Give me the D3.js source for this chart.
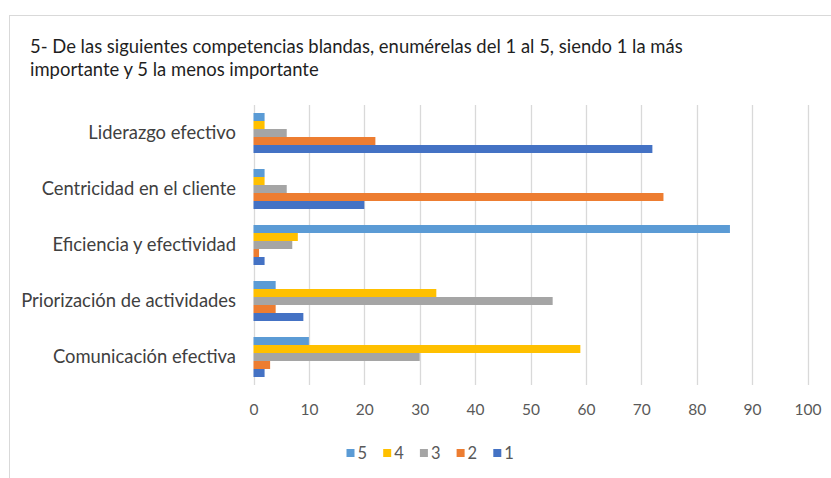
<!DOCTYPE html>
<html>
<head>
<meta charset="utf-8">
<script src="https://cdn.jsdelivr.net/npm/d3@7"></script>
<style>
	body { margin: 0; background: #fff; }
	svg { display: block; font-family: Lato, "Open Sans", sans-serif; }
</style>
</head>
<body>
<svg width="831" height="478"></svg>
<script>
const titleLines = [
	"5- De las siguientes competencias blandas, enumérelas del 1 al 5, siendo 1 la más",
	"importante y 5 la menos importante"
];
const categories = [
	"Liderazgo efectivo",
	"Centricidad en el cliente",
	"Eficiencia y efectividad",
	"Priorización de actividades",
	"Comunicación efectiva"
];
const seriesNames = ["5", "4", "3", "2", "1"];
const seriesColors = ["#5b9bd5", "#ffc000", "#a5a5a5", "#ed7d31", "#4472c4"];
// values per category, in the order of seriesNames (5,4,3,2,1)
const liderazgo = [2, 2, 6, 22, 72];
const centricidad = [2, 2, 6, 74, 20];
const eficiencia = [86, 8, 7, 1, 2];
const priorizacion = [4, 33, 54, 4, 9];
const comunicacion = [10, 59, 30, 3, 2];
const values = [liderazgo, centricidad, eficiencia, priorizacion, comunicacion];
const xTicks = [0, 10, 20, 30, 40, 50, 60, 70, 80, 90, 100];

const svg = d3.select("svg");

// chart frame
svg.append("rect")
	.attr("x", 9.5).attr("y", 15.5)
	.attr("width", 840).attr("height", 480)
	.attr("fill", "#fff")
	.attr("stroke", "#d9d9d9");

// fit a text element to a target width by adjusting its font size
function fitWidth(sel, target) {
	const node = sel.node();
	const w = node.getComputedTextLength();
	const fs = parseFloat(sel.attr("font-size"));
	sel.attr("font-size", fs * target / w);
}

const title = svg.append("g");
titleLines.forEach(function(t, i) {
	title.append("text")
		.attr("x", 30)
		.attr("y", 53 + i * 23)
		.attr("font-size", 15)
		.attr("fill", "#1f1f1f")
		.text(t);
});
fitWidth(title.select("text"), 653);
const tfs = title.select("text").attr("font-size");
title.selectAll("text").attr("font-size", tfs);

const x = d3.scaleLinear()
	.domain([0, 100])
	.range([253.5, 807.5]);

const y = d3.scaleBand()
	.domain(categories)
	.range([105, 385])
	.paddingInner(2 / 7)
	.paddingOuter(1 / 7);

const ySub = d3.scaleBand()
	.domain(seriesNames)
	.range([0, y.bandwidth()]);

// gridlines
svg.append("g")
	.selectAll("line")
	.data(xTicks)
	.enter().append("line")
	.attr("x1", d => Math.round(x(d)) + 0.5)
	.attr("x2", d => Math.round(x(d)) + 0.5)
	.attr("y1", 105)
	.attr("y2", 385)
	.attr("stroke", "#d9d9d9")
	.attr("stroke-width", 1.3);

// x axis labels
const xAxis = svg.append("g")
	.attr("transform", "translate(0,385)")
	.call(d3.axisBottom(x).tickValues(xTicks).tickSize(0).tickPadding(19));
xAxis.select(".domain").remove();
xAxis.selectAll("text")
	.attr("font-size", 15.5)
	.attr("font-family", "Lato, 'Open Sans', sans-serif")
	.attr("fill", "#595959");

// category labels
const yAxis = svg.append("g")
	.attr("transform", "translate(236,0)")
	.call(d3.axisLeft(y).tickSize(0).tickPadding(0));
yAxis.select(".domain").remove();
yAxis.selectAll("text")
	.attr("font-size", 15)
	.attr("font-family", "Lato, 'Open Sans', sans-serif")
	.attr("fill", "#404040");
const longest = yAxis.selectAll("text").filter(d => d === "Priorización de actividades");
fitWidth(longest, 215);
yAxis.selectAll("text").attr("font-size", longest.attr("font-size"));

// bars
const groups = svg.append("g")
	.selectAll("g")
	.data(categories)
	.enter().append("g")
	.attr("transform", d => `translate(0,${y(d)})`);

groups.selectAll("rect")
	.data((d, i) => seriesNames.map((s, j) => ({ series: s, value: values[i][j], color: seriesColors[j] })))
	.enter().append("rect")
	.attr("x", x(0))
	.attr("y", d => ySub(d.series))
	.attr("width", d => x(d.value) - x(0))
	.attr("height", ySub.bandwidth())
	.attr("fill", d => d.color);

// legend
const legend = svg.append("g")
	.selectAll("g")
	.data(seriesNames)
	.enter().append("g")
	.attr("transform", (d, i) => `translate(${346.5 + i * 36.7},453)`);

legend.append("rect")
	.attr("x", 0).attr("y", -4)
	.attr("width", 8).attr("height", 8)
	.attr("fill", (d, i) => seriesColors[i]);

legend.append("text")
	.attr("x", 11)
	.attr("y", 0)
	.attr("dy", "0.36em")
	.attr("font-size", 16.5)
	.attr("fill", "#595959")
	.text(d => d);
</script>
</body>
</html>
